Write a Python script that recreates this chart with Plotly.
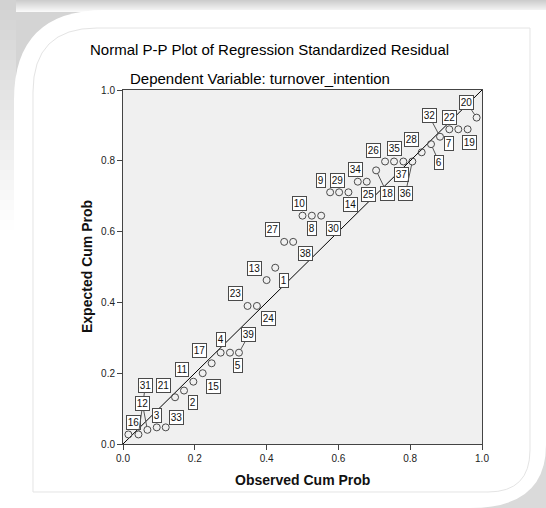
import plotly.graph_objects as go

# ---- data ----
observed = [0.015, 0.043, 0.068, 0.094, 0.119, 0.145, 0.170, 0.196, 0.222, 0.247,
            0.272, 0.298, 0.323, 0.347, 0.373, 0.400, 0.424, 0.449, 0.474, 0.500,
            0.526, 0.552, 0.577, 0.602, 0.628, 0.654, 0.679, 0.705, 0.730, 0.755,
            0.781, 0.806, 0.832, 0.858, 0.883, 0.909, 0.934, 0.960, 0.985]
expected = [0.027, 0.027, 0.040, 0.047, 0.047, 0.132, 0.151, 0.176, 0.200, 0.228,
            0.258, 0.258, 0.258, 0.390, 0.390, 0.463, 0.498, 0.571, 0.571, 0.645,
            0.645, 0.645, 0.711, 0.711, 0.711, 0.741, 0.741, 0.773, 0.798, 0.798,
            0.798, 0.798, 0.824, 0.847, 0.868, 0.889, 0.889, 0.889, 0.922]
case_labels = [16, 31, 12, 3, 33, 21, 2, 11, 15, 17, 4, 5, 39, 23, 24, 13, 1, 27, 38, 10,
               8, 30, 9, 29, 14, 34, 25, 18, 26, 35, 37, 36, 28, 6, 32, 7, 22, 19, 20]
ref_line = [0.0, 1.0]
tick_vals = [0.0, 0.2, 0.4, 0.6, 0.8, 1.0]
tick_text = ["0.0", "0.2", "0.4", "0.6", "0.8", "1.0"]

# label placement (pixel offsets of label box from its point; leader flag)
label_dx = [5, 7, -5, 0, 11, -12, 9, -11, 11, -12, 0, 8, 10, -12, 12, -12, 9, -12, 12, -3,
            0, 12, -9, -2, 2, -2, 2, 11, -12, 0, -2, -7, -10, 8, -11, 0, -9, 2, -10]
label_dy = [-12, -49, -26, -12, -10, -12, 12, -12, 13, -13, -13, 13, -18, -12, 13, -12, 13, -12, 12, -12,
            13, 13, -12, -12, 12, -12, 13, 23, -11, -13, 13, 32, -13, 18, -21, 14, -12, 13, -15]
leaders = {1, 2, 12, 27, 31, 33, 34, 38}

W, H = 546, 508
ML, MR, MT, MB = 123, 64, 90, 64
PW, PH = W - ML - MR, H - MT - MB
FONT = "Liberation Sans, Arial, sans-serif"


def px(x):
    return (x - ML) / PW


def py(y):
    return (H - MB - y) / PH


def gray(v):
    return f"rgb({v},{v},{v})"


fig = go.Figure()

fig.add_trace(go.Scatter(x=ref_line, y=ref_line, mode="lines",
                         line=dict(color="black", width=1), hoverinfo="skip",
                         showlegend=False))
fig.add_trace(go.Scatter(x=observed, y=expected, mode="markers",
                         marker=dict(symbol="circle-open", size=7, color="#4a4a4a",
                                     line=dict(width=1, color="#4a4a4a")),
                         showlegend=False))

shapes = []
# decorative gray frame
shapes.append(dict(type="rect", xref="paper", yref="paper", x0=px(0), x1=px(120),
                   y0=py(0), y1=py(110), fillcolor=gray(212), line=dict(width=0), layer="below"))
shapes.append(dict(type="rect", xref="paper", yref="paper", x0=px(420), x1=px(W),
                   y0=py(420), y1=py(H), fillcolor=gray(218), line=dict(width=0), layer="below"))
for i in range(12):
    v = 205 + i * 4
    shapes.append(dict(type="rect", xref="paper", yref="paper", x0=px(0), x1=px(W),
                       y0=py(i), y1=py(i + 1), fillcolor=gray(v), line=dict(width=0), layer="below"))
for j in range(32):
    v = min(255, 210 + j * 2)
    shapes.append(dict(type="rect", xref="paper", yref="paper", x0=px(0), x1=px(16),
                       y0=py(j * 10), y1=py(j * 10 + 10), fillcolor=gray(v),
                       line=dict(width=0), layer="below"))


def pth(pts):
    out = []
    for cmd, coords in pts:
        s = " ".join(f"{px(a):.5f},{py(b):.5f}" for a, b in coords)
        out.append(f"{cmd} {s}")
    return " ".join(out) + " Z"


panel = pth([("M", [(14, H)]), ("L", [(14, 100)]), ("Q", [(14, 10), (105, 10)]),
             ("L", [(W, 10)]), ("L", [(W, 445)]), ("Q", [(W, H), (470, H)])])
shapes.append(dict(type="path", xref="paper", yref="paper", path=panel,
                   fillcolor="white", line=dict(width=0), layer="below"))
inner = pth([("M", [(33, 492)]), ("L", [(33, 92)]), ("Q", [(33, 28), (97, 28)]),
             ("L", [(530, 28)]), ("L", [(530, 450)]), ("Q", [(530, 492), (488, 492)])])
shapes.append(dict(type="path", xref="paper", yref="paper", path=inner,
                   fillcolor="rgba(0,0,0,0)", line=dict(width=1, color="#e4e4e4"), layer="below"))
# plot background
shapes.append(dict(type="rect", xref="paper", yref="paper", x0=0, x1=1, y0=0, y1=1,
                   fillcolor="#f0f0f0", line=dict(width=0), layer="below"))

annotations = []
for i, (xv, yv, lab) in enumerate(zip(observed, expected, case_labels)):
    common = dict(x=xv, y=yv, xref="x", yref="y", text=str(lab),
                  font=dict(family=FONT, size=10, color="#111111"),
                  bgcolor="white", bordercolor="#4a4a4a", borderwidth=1, borderpad=0.8)
    if i in leaders:
        annotations.append(dict(**common, showarrow=True, ax=label_dx[i], ay=label_dy[i],
                                arrowhead=0, arrowwidth=1, arrowcolor="#555555", standoff=3.5))
    else:
        annotations.append(dict(**common, showarrow=False, xshift=label_dx[i], yshift=-label_dy[i]))

annotations.append(dict(text="Normal P-P Plot of Regression Standardized Residual",
                        x=px(88), y=py(49), xref="paper", yref="paper", xanchor="left",
                        yanchor="middle", showarrow=False,
                        font=dict(family=FONT, size=15, color="black")))
annotations.append(dict(text="Dependent Variable: turnover_intention",
                        x=px(128), y=py(78.5), xref="paper", yref="paper", xanchor="left",
                        yanchor="middle", showarrow=False,
                        font=dict(family=FONT, size=15, color="black")))
annotations.append(dict(text="<b>Observed Cum Prob</b>", x=0.5, y=py(480), xref="paper", yref="paper",
                        xanchor="center", yanchor="middle", showarrow=False,
                        font=dict(family=FONT, size=14, color="#111111")))
annotations.append(dict(text="<b>Expected Cum Prob</b>", x=px(87), y=0.5, xref="paper", yref="paper",
                        xanchor="center", yanchor="middle", showarrow=False, textangle=-90,
                        font=dict(family=FONT, size=14, color="#111111")))

axis_common = dict(range=[0, 1], tickvals=tick_vals, ticktext=tick_text, ticks="outside",
                   ticklen=5, tickcolor="#444444", tickwidth=1, showgrid=False, zeroline=False,
                   showline=True, mirror=True, linecolor="#444444", linewidth=1,
                   tickfont=dict(family=FONT, size=10, color="#222222"),
                   fixedrange=True)

fig.update_layout(
    width=W, height=H,
    margin=dict(l=ML, r=MR, t=MT, b=MB, pad=0),
    paper_bgcolor="white", plot_bgcolor="rgba(0,0,0,0)",
    xaxis=axis_common, yaxis=axis_common,
    shapes=shapes, annotations=annotations, showlegend=False,
)

fig.write_html("out.html")
